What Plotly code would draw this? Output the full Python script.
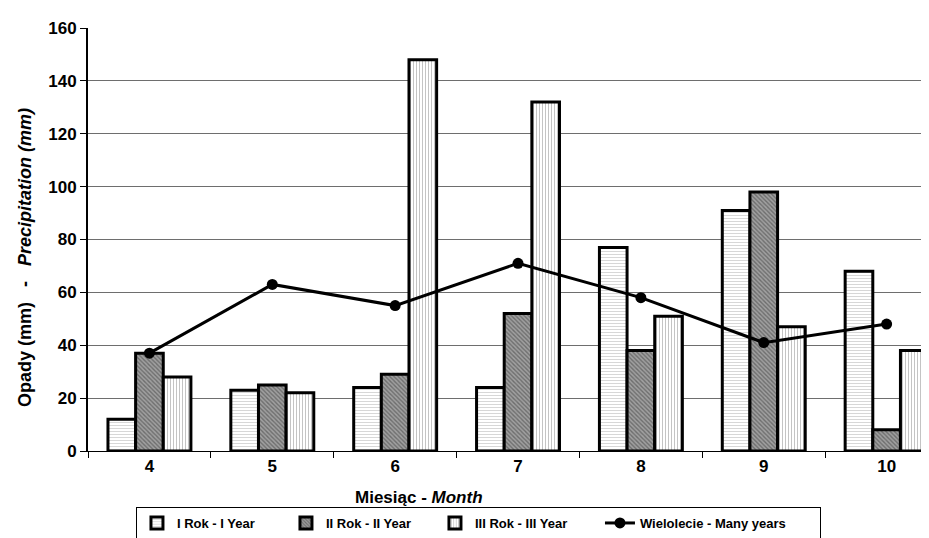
import plotly.graph_objects as go

months = ["4", "5", "6", "7", "8", "9", "10"]
year1 = [12, 23, 24, 24, 77, 91, 68]
year2 = [37, 25, 29, 52, 38, 98, 8]
year3 = [28, 22, 148, 132, 51, 47, 38]
many_years = [37, 63, 55, 71, 58, 41, 48]

names = ["I Rok - I Year", "II Rok - II Year", "III Rok - III Year", "Wielolecie - Many years"]
y_ticks = [0, 20, 40, 60, 80, 100, 120, 140, 160]

FONT = "Liberation Sans, Arial, sans-serif"

fig = go.Figure()
fig.add_trace(go.Bar(
    x=months, y=year1, name=names[0],
    marker=dict(color="white", line=dict(color="black", width=3),
                pattern=dict(shape="-", fgcolor="#b0b0b0", bgcolor="white", size=3, solidity=0.35)),
    legendwidth=104,
))
fig.add_trace(go.Bar(
    x=months, y=year2, name=names[1],
    marker=dict(color="#777777", line=dict(color="black", width=3),
                pattern=dict(shape="\\", fgcolor="#3a3a3a", bgcolor="#a0a0a0", size=3, solidity=0.45)),
    legendwidth=104,
))
fig.add_trace(go.Bar(
    x=months, y=year3, name=names[2],
    marker=dict(color="white", line=dict(color="black", width=3),
                pattern=dict(shape="|", fgcolor="#8a8a8a", bgcolor="white", size=3, solidity=0.35)),
    legendwidth=120,
))
fig.add_trace(go.Scatter(
    x=months, y=many_years, name=names[3], mode="lines+markers",
    line=dict(color="black", width=3),
    marker=dict(color="black", size=11, symbol="circle"),
    legendwidth=175,
))

fig.update_layout(
    width=929, height=538,
    margin=dict(l=80, r=0, t=20, b=95, autoexpand=False),
    paper_bgcolor="white", plot_bgcolor="white",
    barmode="group", bargap=0.325, bargroupgap=0,
    font=dict(family=FONT, size=14, color="black", weight="bold"),
    showlegend=True,
    legend=dict(
        orientation="h", x=0.0565, xanchor="left", y=-0.1324, yanchor="top",
        bordercolor="black", borderwidth=1, bgcolor="white",
        font=dict(family=FONT, size=13, color="black", weight="bold"),
        traceorder="normal",
    ),
    xaxis=dict(
        type="category", range=[-0.5, 6.41],
        showline=True, linecolor="black", linewidth=1,
        ticks="outside", tickson="boundaries", ticklen=6, tickcolor="black",
        showgrid=False,
        tickfont=dict(family=FONT, size=17, color="black", weight="bold"),
    ),
    yaxis=dict(
        range=[0, 160], tickvals=y_ticks, ticktext=[str(v) for v in y_ticks],
        showline=True, linecolor="black", linewidth=2,
        ticks="outside", ticklen=6, tickcolor="black",
        showgrid=True, gridcolor="#6e6e6e", gridwidth=1,
        zeroline=False,
        tickfont=dict(family=FONT, size=17, color="black", weight="bold"),
    ),
    annotations=[
        dict(
            text="Miesiąc - <i>Month</i>", xref="paper", yref="paper",
            x=0.39, y=-0.11, xanchor="center", yanchor="middle", showarrow=False,
            font=dict(family=FONT, size=17, color="black", weight="bold"),
        ),
        dict(
            text="Opady (mm)   -   <i>Precipitation (mm)</i>", xref="paper", yref="paper",
            x=-0.0742, y=0.456, xanchor="center", yanchor="middle", showarrow=False,
            textangle=-90,
            font=dict(family=FONT, size=18, color="black", weight="bold"),
        ),
    ],
)

fig.write_html("out.html")
